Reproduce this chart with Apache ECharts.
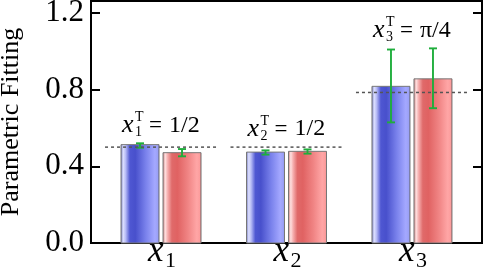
<!DOCTYPE html>
<html>
<head>
<meta charset="utf-8">
<script src="https://cdn.jsdelivr.net/npm/echarts@6/dist/echarts.min.js"></script>
<style>
html, body { margin: 0; padding: 0; background: #fff; }
#chart { width: 484px; height: 269px; }
</style>
</head>
<body>
<div id="chart"></div>
<script>
var categories = ['1', '2', '3'];           // subscripts of x
var trueLabels = ['1/2', '1/2', 'π/4'];
var trueValues = [0.5, 0.5, 0.785];
var blueValues = [0.513, 0.474, 0.817];
var blueLow = [0.497, 0.461, 0.629];
var blueHigh = [0.520, 0.483, 1.009];
var redValues = [0.471, 0.478, 0.856];
var redLow = [0.452, 0.466, 0.703];
var redHigh = [0.490, 0.488, 1.015];
var yTicks = [0, 0.4, 0.8, 1.2];

var SERIF = '"Liberation Serif", "DejaVu Serif", serif';
var myChart = echarts.init(document.getElementById('chart'));

var blueFill = new echarts.graphic.LinearGradient(0, 0, 1, 0, [
    { offset: 0, color: '#6a70b8' },
    { offset: 0.07, color: '#dde0ff' },
    { offset: 0.13, color: '#b8bcf6' },
    { offset: 0.24, color: '#4f57d2' },
    { offset: 0.38, color: '#4850cc' },
    { offset: 0.65, color: '#7a82ec' },
    { offset: 0.88, color: '#a4a8ff' },
    { offset: 0.96, color: '#9aa0f6' },
    { offset: 1, color: '#5a62c0' }
]);
var redFill = new echarts.graphic.LinearGradient(0, 0, 1, 0, [
    { offset: 0, color: '#c07070' },
    { offset: 0.07, color: '#ffe0e0' },
    { offset: 0.13, color: '#f6b0b0' },
    { offset: 0.24, color: '#e06a6a' },
    { offset: 0.38, color: '#e06262' },
    { offset: 0.65, color: '#f08484' },
    { offset: 0.88, color: '#ffa6a6' },
    { offset: 0.96, color: '#fc9c9c' },
    { offset: 1, color: '#c05a5a' }
]);

function barSeries(name, vals, lo, hi, offset, fill) {
    var data = vals.map(function (v, i) { return [i + 1, v, lo[i], hi[i]]; });
    return {
        name: name,
        type: 'custom',
        data: data,
        z: 2,
        renderItem: function (params, api) {
            var x = api.value(0);
            var top = api.coord([x, api.value(1)]);
            var base = api.coord([x, 0]);
            var pLo = api.coord([x, api.value(2)]);
            var pHi = api.coord([x, api.value(3)]);
            var cx = top[0] + offset;
            var w = 38;
            var errStyle = { stroke: '#1fae3c', lineWidth: 1.9 };
            return {
                type: 'group',
                children: [
                    { type: 'rect', shape: { x: cx - w / 2, y: top[1], width: w, height: base[1] - top[1] },
                      style: { fill: fill, stroke: '#777', lineWidth: 1 } },
                    { type: 'line', z2: 5, shape: { x1: cx, y1: pLo[1], x2: cx, y2: pHi[1] }, style: errStyle },
                    { type: 'line', z2: 5, shape: { x1: cx - 4, y1: pLo[1], x2: cx + 4, y2: pLo[1] }, style: errStyle },
                    { type: 'line', z2: 5, shape: { x1: cx - 4, y1: pHi[1], x2: cx + 4, y2: pHi[1] }, style: errStyle }
                ]
            };
        }
    };
}

function txt(x, y, s, size, italic, align) {
    return { type: 'text', x: x, y: y,
        style: { text: s, fill: '#000', font: (italic ? 'italic ' : '') + size + 'px ' + SERIF,
                 textAlign: align || 'left', textVerticalAlign: 'bottom' } };
}

var refData = trueValues.map(function (v, i) {
    return [i + 1, v, Math.max(v, blueHigh[i], redHigh[i])];
});

option = {
    animation: false,
    grid: { left: 91, right: 2, top: 1, bottom: 26, show: true, borderColor: '#000', borderWidth: 2,
            containLabel: false, outerBoundsMode: 'none' },
    xAxis: {
        type: 'value', min: 0.442, max: 3.558,
        axisLine: { lineStyle: { color: '#000', width: 2 } },
        axisTick: { show: false }, axisLabel: { show: false }, splitLine: { show: false }
    },
    yAxis: [{
        type: 'value', min: 0, max: 1.262, interval: 0.4,
        name: 'Parametric Fitting', nameLocation: 'middle', nameGap: 67,
        nameMoveOverlap: false,
        nameTextStyle: { fontFamily: SERIF, fontSize: 26, color: '#000' },
        axisLine: { show: true, lineStyle: { color: '#000', width: 2 } },
        axisTick: { inside: true, length: 9, lineStyle: { color: '#000', width: 2 } },
        axisLabel: { showMaxLabel: false, margin: 7, fontFamily: SERIF, fontSize: 31, color: '#000',
                     formatter: function (v) { return v.toFixed(1); } },
        splitLine: { show: false }
    }, {
        type: 'value', min: 0, max: 1.262, interval: 0.4, position: 'right',
        axisLine: { show: true, lineStyle: { color: '#000', width: 2 } },
        axisTick: { inside: true, length: 9, lineStyle: { color: '#000', width: 2 } },
        axisLabel: { show: false }, splitLine: { show: false }
    }],
    series: [
        barSeries('blue', blueValues, blueLow, blueHigh, -21, blueFill),
        barSeries('red', redValues, redLow, redHigh, 21, redFill),
        {
            name: 'true',
            type: 'custom',
            data: refData,
            z: 3,
            renderItem: function (params, api) {
                var i = params.dataIndex;
                var p = api.coord([api.value(0), api.value(1)]);
                var a = api.coord([api.value(0), api.value(2)]);
                var c = p[0] + 3;
                var ty = Math.min(p[1], a[1]) - 7;
                return {
                    type: 'group',
                    children: [
                        { type: 'line', shape: { x1: p[0] - 56, y1: p[1], x2: p[0] + 56, y2: p[1] },
                          style: { stroke: '#555', lineWidth: 1.5, lineDash: [3, 3] } },
                        txt(c - 42, ty + 2, 'x', 26, true),
                        txt(c - 29, ty - 12, 'T', 14, false),
                        txt(c - 29, ty + 3, categories[i], 14, false),
                        txt(c - 15, ty + 1, '=', 23, false),
                        txt(c + 5, ty + 1, trueLabels[i], 24, false)
                    ]
                };
            }
        },
        {
            name: 'xlabels',
            type: 'custom',
            data: categories.map(function (c, i) { return [i + 1, 0]; }),
            z: 3,
            renderItem: function (params, api) {
                var p = api.coord([api.value(0), 0]);
                return {
                    type: 'group',
                    children: [
                        txt(p[0] - 13, p[1] + 26, 'x', 35, true),
                        txt(p[0] + 4, p[1] + 29, categories[params.dataIndex], 22, false)
                    ]
                };
            }
        }
    ]
};
myChart.setOption(option);
</script>
</body>
</html>
